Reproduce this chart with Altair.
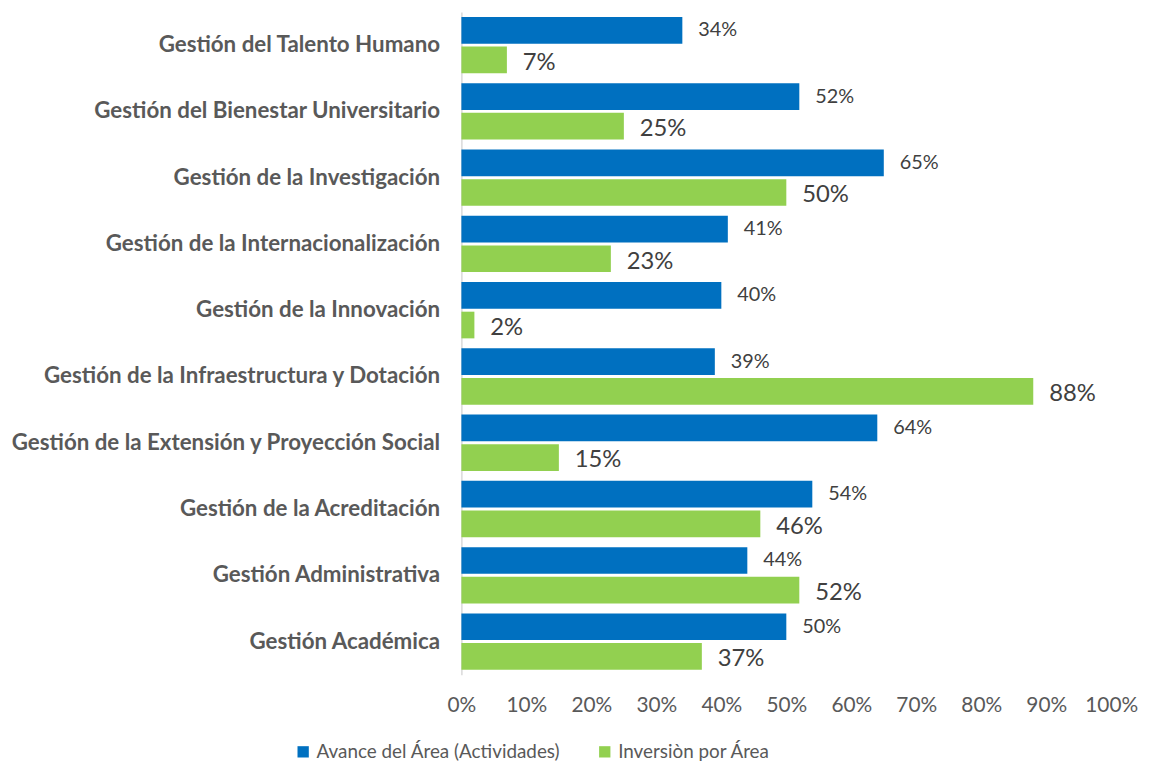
import altair as alt
import pandas as pd

categorias = [
    "Gestión del Talento Humano",
    "Gestión del Bienestar Universitario",
    "Gestión de la Investigación",
    "Gestión de la Internacionalización",
    "Gestión de la Innovación",
    "Gestión de la Infraestructura y Dotación",
    "Gestión de la Extensión y Proyección Social",
    "Gestión de la Acreditación",
    "Gestión Administrativa",
    "Gestión Académica",
]
avance = [0.34, 0.52, 0.65, 0.41, 0.40, 0.39, 0.64, 0.54, 0.44, 0.50]
inversion = [0.07, 0.25, 0.50, 0.23, 0.02, 0.88, 0.15, 0.46, 0.52, 0.37]
series = ["Avance del Área  (Actividades)", "Inversiòn por  Área"]
colores = ["#0070C0", "#92D050"]

rows = []
for c, a, i in zip(categorias, avance, inversion):
    rows.append({"area": c, "serie": series[0], "valor": a})
    rows.append({"area": c, "serie": series[1], "valor": i})
df = pd.DataFrame(rows)

FONT = "Lato"

y_enc = alt.Y("area:N", sort=categorias, title=None,
              scale=alt.Scale(paddingInner=0.15, paddingOuter=0.075),
              axis=alt.Axis(labelFont=FONT, labelFontWeight="bold", labelFontSize=22.5,
                            labelColor="#595959", labelPadding=22, ticks=False,
                            domainColor="#d9d9d9", domainWidth=1.5, labelLimit=600))
x_enc = alt.X("valor:Q", title=None,
              scale=alt.Scale(domain=[0, 1]),
              axis=alt.Axis(format=".0%", values=[i / 10 for i in range(11)],
                            labelFont=FONT, labelFontSize=21, labelColor="#595959",
                            labelPadding=20, labelFlush=False, ticks=False,
                            domain=False, grid=False))
yoff = alt.YOffset("serie:N", sort=series, scale=alt.Scale(paddingInner=0.1))

bars = alt.Chart(df).mark_bar().encode(
    y=y_enc, x=x_enc, yOffset=yoff,
    color=alt.Color("serie:N", sort=series,
                    scale=alt.Scale(domain=series, range=colores),
                    legend=alt.Legend(title=None, orient="none", direction="horizontal",
                                      legendX=-169, legendY=736,
                                      symbolType="square", symbolSize=130,
                                      symbolStrokeWidth=0,
                                      labelFont=FONT, labelFontSize=19,
                                      labelColor="#595959", columnPadding=30,
                                      labelLimit=400)),
)

txt_a = alt.Chart(df).transform_filter(alt.datum.serie == series[0]).mark_text(
    align="left", baseline="middle", dx=16, font=FONT, fontSize=20, color="#404040"
).encode(y=alt.Y("area:N", sort=categorias), x="valor:Q", yOffset=yoff,
         text=alt.Text("valor:Q", format=".0%"))

txt_i = alt.Chart(df).transform_filter(alt.datum.serie == series[1]).mark_text(
    align="left", baseline="middle", dx=16, dy=3, font=FONT, fontSize=24, color="#404040"
).encode(y=alt.Y("area:N", sort=categorias), x="valor:Q", yOffset=yoff,
         text=alt.Text("valor:Q", format=".0%"))

chart = alt.layer(bars, txt_a, txt_i).properties(
    width=655, height=668,
    autosize=alt.AutoSizeParams(type="none"),
    padding={"left": 457, "top": 1, "right": 30, "bottom": 87},
).configure_view(stroke=None)

chart.save("out.html", embed_options={"renderer": "svg", "actions": False})
